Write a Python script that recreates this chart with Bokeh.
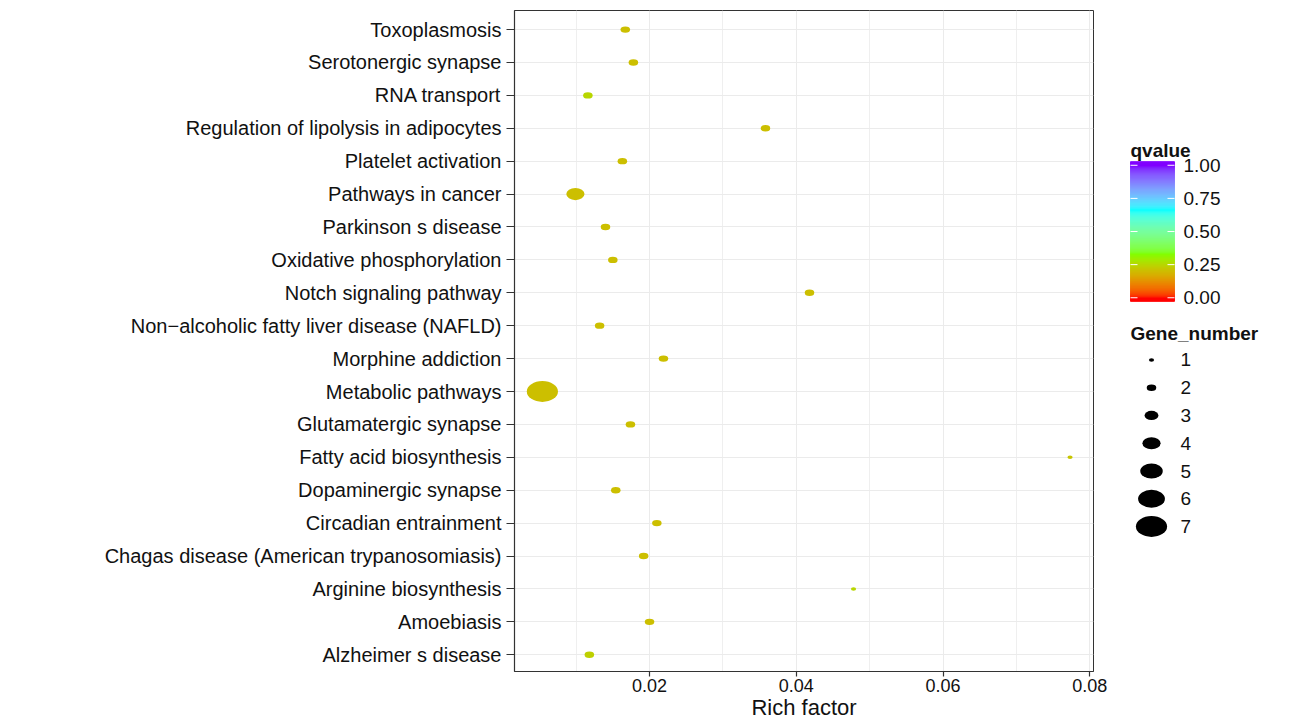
import numpy as np
from bokeh.plotting import figure
from bokeh.models import Range1d, FixedTicker, LinearColorMapper, ColumnDataSource
from bokeh.layouts import row
from bokeh.core.properties import value
from bokeh.embed import file_html
from bokeh.resources import INLINE

# ---------------- data ----------------
pathways = ["Toxoplasmosis", "Serotonergic synapse", "RNA transport",
            "Regulation of lipolysis in adipocytes", "Platelet activation",
            "Pathways in cancer", "Parkinson s disease", "Oxidative phosphorylation",
            "Notch signaling pathway", "Non\u2212alcoholic fatty liver disease (NAFLD)",
            "Morphine addiction", "Metabolic pathways", "Glutamatergic synapse",
            "Fatty acid biosynthesis", "Dopaminergic synapse", "Circadian entrainment",
            "Chagas disease (American trypanosomiasis)", "Arginine biosynthesis",
            "Amoebiasis", "Alzheimer s disease"]
rich_factor = [0.0167, 0.0178, 0.0116, 0.0358, 0.0163, 0.0099, 0.0140, 0.0150,
               0.0418, 0.0132, 0.0219, 0.0054, 0.0174, 0.0773, 0.0154, 0.0210,
               0.0192, 0.0478, 0.0200, 0.0118]
gene_number = [2, 2, 2, 2, 2, 4, 2, 2, 2, 2, 2, 7, 2, 1, 2, 2, 2, 1, 2, 2]
qvalue = [0.21, 0.21, 0.25, 0.21, 0.21, 0.21, 0.21, 0.21, 0.21, 0.21, 0.21, 0.21,
          0.21, 0.22, 0.21, 0.21, 0.21, 0.25, 0.21, 0.24]

x_ticks = [0.02, 0.04, 0.06, 0.08]
x_minor = [0.01, 0.03, 0.05, 0.07]
q_ticks = [0.0, 0.25, 0.5, 0.75, 1.0]
q_labels = ["0.00", "0.25", "0.50", "0.75", "1.00"]
size_levels = [1, 2, 3, 4, 5, 6, 7]

# ---------------- colour scale (rainbow(4) interpolated in CIELAB) ----------------
anchor_hex = ["#FF0000", "#80FF00", "#00FFFF", "#8000FF"]
M = np.array([[0.4124564, 0.3575761, 0.1804375],
              [0.2126729, 0.7151522, 0.0721750],
              [0.0193339, 0.1191920, 0.9503041]])
WHITE = np.array([0.95047, 1.0, 1.08883])


def hex2lab(h):
    c = np.array([int(h[i:i + 2], 16) for i in (1, 3, 5)]) / 255.0
    lin = np.where(c <= 0.04045, c / 12.92, ((c + 0.055) / 1.055) ** 2.4)
    xyz = M @ lin / WHITE
    d = 6 / 29
    f = np.where(xyz > d ** 3, np.cbrt(xyz), xyz / (3 * d * d) + 4 / 29)
    return np.array([116 * f[1] - 16, 500 * (f[0] - f[1]), 200 * (f[1] - f[2])])


def lab2hex(lab):
    L, a, b = lab
    fy = (L + 16) / 116
    fx = fy + a / 500
    fz = fy - b / 200
    d = 6 / 29
    f = np.array([fx, fy, fz])
    xyz = np.where(f > d, f ** 3, 3 * d * d * (f - 4 / 29)) * WHITE
    lin = np.linalg.solve(M, xyz)
    lin = np.clip(lin, 0, 1)
    c = np.where(lin <= 0.0031308, 12.92 * lin, 1.055 * lin ** (1 / 2.4) - 0.055)
    c = np.clip(np.round(c * 255), 0, 255).astype(int)
    return "#%02x%02x%02x" % tuple(c)


anchors = [hex2lab(h) for h in anchor_hex]
palette = []
for t in np.linspace(0, 1, 256):
    seg = min(int(t * 3), 2)
    u = t * 3 - seg
    palette.append(lab2hex(anchors[seg] * (1 - u) + anchors[seg + 1] * u))
mapper = LinearColorMapper(palette=palette, low=0, high=1)


def dot_w(g):
    return 5.2 * (1 + 5 * (np.asarray(g, dtype=float) - 1) / 6)


FONT = "Liberation Sans"
FRAME_TOP, FRAME_BOTTOM = 10, 672

# ---------------- main panel ----------------
n = len(pathways)
ypos = list(range(n, 0, -1))
src = ColumnDataSource(dict(x=rich_factor, y=ypos, q=qvalue,
                            w=dot_w(gene_number), h=dot_w(gene_number) / 1.5))

p = figure(width=1110, height=722, output_backend="svg", toolbar_location=None,
           x_range=Range1d(0.0016, 0.0805), y_range=Range1d(0.49, n + 0.58),
           min_border_left=514, min_border_right=17, min_border_top=FRAME_TOP,
           min_border_bottom=722 - FRAME_BOTTOM)
p.background_fill_color = "white"
p.border_fill_color = "white"
p.outline_line_color = "#333333"
p.outline_line_width = 1

p.xaxis.ticker = FixedTicker(ticks=x_ticks, minor_ticks=x_minor)
p.yaxis.ticker = FixedTicker(ticks=ypos)
p.yaxis.major_label_overrides = {yy: name for yy, name in zip(ypos, pathways)}
p.xaxis.major_label_overrides = {t: ("%.2f" % t) for t in x_ticks}

for ax in (p.xaxis[0], p.yaxis[0]):
    ax.axis_line_color = "#333333"
    ax.axis_line_width = 1.2
    ax.major_tick_line_color = "#333333"
    ax.major_tick_line_width = 1.2
    ax.major_tick_in = 0
    ax.minor_tick_line_color = None
    ax.major_label_text_font = FONT
    ax.major_label_text_color = "#111111"

p.yaxis.major_tick_out = 8
p.yaxis.major_label_text_font_size = "20px"
p.yaxis.major_label_standoff = 5
p.xaxis.major_tick_out = 5
p.xaxis.major_label_text_font_size = "18px"
p.xaxis.major_label_standoff = 2
p.xaxis.axis_label = "Rich factor"
p.xaxis.axis_label_text_font = FONT
p.xaxis.axis_label_text_font_size = "22px"
p.xaxis.axis_label_text_font_style = "normal"
p.xaxis.axis_label_text_color = "#111111"
p.xaxis.axis_label_standoff = 0

p.xgrid.grid_line_color = "#EBEBEB"
p.xgrid.grid_line_width = 1
p.xgrid.minor_grid_line_color = "#EFEFEF"
p.xgrid.minor_grid_line_width = 1
p.ygrid.grid_line_color = "#EBEBEB"
p.ygrid.grid_line_width = 1

p.ellipse(x="x", y="y", width="w", height="h", source=src,
          width_units="screen", height_units="screen",
          fill_color={"field": "q", "transform": mapper}, line_color=None)

# ---------------- legend panel (frame aligned with main frame) ----------------
lg = figure(width=195, height=722, output_backend="svg", toolbar_location=None,
            x_range=Range1d(1110, 1305), y_range=Range1d(FRAME_BOTTOM, FRAME_TOP),
            x_axis_location=None, y_axis_location=None,
            min_border_left=0, min_border_right=0, min_border_top=FRAME_TOP,
            min_border_bottom=722 - FRAME_BOTTOM)
lg.outline_line_color = None
lg.grid.visible = False
lg.background_fill_color = "white"
lg.border_fill_color = "white"

# colour bar geometry
cb_x0, cb_x1 = 1130, 1174
q_to_sy = lambda q: 297.7 - np.asarray(q, dtype=float) * 132.7
slices = np.linspace(-0.027, 1.027, 141)
cb_src = ColumnDataSource(dict(top=q_to_sy(slices[1:]), bottom=q_to_sy(slices[:-1]),
                               q=(slices[:-1] + slices[1:]) / 2))
lg.quad(left=cb_x0, right=cb_x1, top="top", bottom="bottom", source=cb_src,
        fill_color={"field": "q", "transform": mapper},
        line_color={"field": "q", "transform": mapper}, line_width=1)
tick_sy = q_to_sy(q_ticks)
lg.segment(x0=cb_x0, x1=cb_x0 + 7, y0=tick_sy, y1=tick_sy, line_color="white", line_width=1)
lg.segment(x0=cb_x1 - 7, x1=cb_x1, y0=tick_sy, y1=tick_sy, line_color="white", line_width=1)
lg.text(x=1183, y=tick_sy, text=q_labels, text_font=value(FONT), text_font_size="19px",
        text_baseline="middle", text_align="left", text_color="#111111")
lg.text(x=[1130], y=[150], text=["qvalue"], text_font=value(FONT), text_font_size="19px",
        text_font_style="bold", text_baseline="middle", text_color="#111111")

# size legend
lg.text(x=[1130], y=[333], text=["Gene_number"], text_font=value(FONT), text_font_size="19px",
        text_font_style="bold", text_baseline="middle", text_color="#111111")
sz_sy = 360 + (np.asarray(size_levels) - 1) * 27.8
lg.ellipse(x=1151, y=sz_sy, width=dot_w(size_levels), height=dot_w(size_levels) / 1.5,
           width_units="screen", height_units="screen", fill_color="black", line_color=None)
lg.text(x=1180, y=sz_sy, text=[str(s) for s in size_levels], text_font=value(FONT),
        text_font_size="19px", text_baseline="middle", text_align="left", text_color="#111111")

layout = row(p, lg, spacing=0)
open("out.html", "w").write(file_html(layout, INLINE))
